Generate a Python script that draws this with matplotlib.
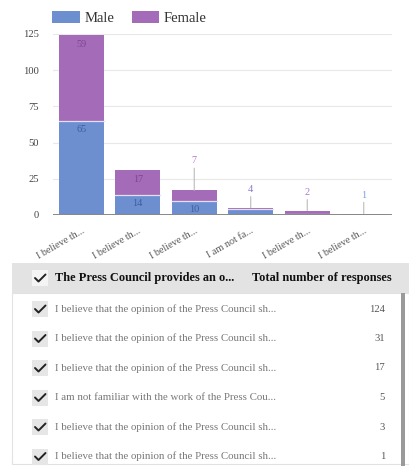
import matplotlib
matplotlib.use("Agg")
import matplotlib.pyplot as plt
from matplotlib.patches import Rectangle, Patch
from matplotlib.lines import Line2D
import numpy as np

# ---- data ----
tick_labels = ["I believe th...", "I believe th...", "I believe th...",
               "I am not fa...", "I believe th...", "I believe th..."]
male = [65, 14, 10, 4, 1, 1]
female = [59, 17, 7, 1, 2, 0]
row_texts = ["I believe that the opinion of the Press Council sh...",
             "I believe that the opinion of the Press Council sh...",
             "I believe that the opinion of the Press Council sh...",
             "I am not familiar with the work of the Press Cou...",
             "I believe that the opinion of the Press Council sh...",
             "I believe that the opinion of the Press Council sh..."]
totals = [124, 31, 17, 5, 3, 1]
header_left = "The Press Council provides an o..."
header_right = "Total number of responses"
y_ticks = [0, 25, 50, 75, 100, 125]

MALE_C = "#6d8fd0"
FEMALE_C = "#a46bb8"
SERIF = ["Liberation Serif", "DejaVu Serif"]

W, H = 409, 466
fig = plt.figure(figsize=(W / 100, H / 100), dpi=100)
fig.patch.set_facecolor("white")


def fx(x):
    return x / W


def fy(y):
    return 1 - y / H


# ---- stacked bar chart ----
ax = fig.add_axes([fx(53), fy(215), (392 - 53) / W, (215 - 34) / H])
x = np.arange(len(male))
bw = 0.79
ax.bar(x, male, bw, color=MALE_C, edgecolor="none", zorder=3)
ax.bar(x, female, bw, bottom=male, color=FEMALE_C, edgecolor="none", zorder=3)
# light seam between the two stacked segments
for i in range(len(male)):
    if female[i] > 0 and male[i] > 0:
        ax.plot([x[i] - bw / 2, x[i] + bw / 2], [male[i], male[i]],
                color="#e4e0f2", lw=0.9, zorder=4)

ax.set_xlim(-0.5, len(male) - 0.5)
ax.set_ylim(0, 125)
ax.set_yticks(y_ticks)
ax.set_yticklabels([str(t) for t in y_ticks], fontsize=7.6, color="#444444",
                   family=SERIF)
ax.tick_params(axis="y", length=0, pad=10)
ax.set_xticks(x)
ax.set_xticklabels(tick_labels, rotation=30, ha="right", rotation_mode="anchor",
                   fontsize=7.3, color="#555555", family=SERIF)
ax.tick_params(axis="x", length=0, pad=8)
for s in ax.spines.values():
    s.set_visible(False)
ax.grid(axis="y", color="#e8e8e8", linewidth=0.8, zorder=0)
ax.axhline(0, color="#888888", linewidth=1.4, zorder=5)

# values inside the larger segments
for i in range(len(male)):
    if male[i] >= 10:
        ax.annotate(str(male[i]), (x[i], male[i]), xytext=(0, -6.5),
                    textcoords="offset points", ha="center", va="center",
                    fontsize=7.4, color="#3e5d9e", family=SERIF, zorder=6)
    if female[i] >= 10:
        ax.annotate(str(female[i]), (x[i], male[i] + female[i]), xytext=(0, -6.5),
                    textcoords="offset points", ha="center", va="center",
                    fontsize=7.4, color="#7c4592", family=SERIF, zorder=6)

# values for the small bars, lifted above with a leader line
outside = [(2, female[2], "#b57bd0", 18),
           (3, male[3], "#8c78cc", 10),
           (4, female[4], "#a57bd8", 10),
           (5, male[5], "#7f9fe0", 10)]
for i, v, c, off in outside:
    top = male[i] + female[i]
    ax.annotate(str(v), (x[i], top), xytext=(0, off),
                textcoords="offset points", ha="center", va="bottom",
                fontsize=7.4, color=c, family=SERIF, zorder=6,
                arrowprops=dict(arrowstyle="-", color="#bbbbbb", lw=0.8,
                                shrinkA=0, shrinkB=0))

# ---- legend ----
handles = [Patch(facecolor=MALE_C, edgecolor="none"),
           Patch(facecolor=FEMALE_C, edgecolor="none")]
fig.legend(handles, ["Male", "Female"], loc="upper left",
           bbox_to_anchor=(fx(39), fy(-2)), ncol=2, frameon=False,
           prop={"family": SERIF, "size": 10.5}, handlelength=1.9,
           handleheight=0.9, handletextpad=0.3, columnspacing=1.2,
           labelcolor="#333333")

# ---- response table ----
def checkbox(cx, cy, bg):
    fig.patches.append(Rectangle((fx(cx - 8), fy(cy + 8)), 16 / W, 16 / H,
                                 transform=fig.transFigure, facecolor=bg,
                                 edgecolor="none"))
    fig.lines.append(Line2D([fx(cx - 5), fx(cx - 1.5), fx(cx + 5.5)],
                            [fy(cy), fy(cy + 3.5), fy(cy - 3.5)],
                            transform=fig.transFigure, color="#222222",
                            lw=1.4, solid_capstyle="round",
                            solid_joinstyle="round"))


# panel and header band
fig.patches.append(Rectangle((fx(12), fy(464)), (W - 12) / W, (464 - 293) / H,
                             transform=fig.transFigure, facecolor="white",
                             edgecolor="#e2e2e2", lw=0.8))
fig.patches.append(Rectangle((fx(12), fy(293)), (W - 12) / W, 30 / H,
                             transform=fig.transFigure, facecolor="#e3e3e3",
                             edgecolor="none"))
# scrollbar
fig.patches.append(Rectangle((fx(401), fy(466)), 4 / W, (466 - 293) / H,
                             transform=fig.transFigure, facecolor="#9a9a9a",
                             edgecolor="none"))

header_y = 278
checkbox(40, header_y, "#f4f4f4")
fig.text(fx(55), fy(header_y), header_left, ha="left", va="center",
         fontsize=8.9, fontweight="bold", color="#111111", family=SERIF)
fig.text(fx(392), fy(header_y), header_right, ha="right", va="center",
         fontsize=8.9, fontweight="bold", color="#111111", family=SERIF)

row_y0, row_step = 309, 29.5
for k, (txt, tot) in enumerate(zip(row_texts, totals)):
    yy = row_y0 + k * row_step
    checkbox(40, yy, "#e6e6e6")
    fig.text(fx(55), fy(yy), txt, ha="left", va="center", fontsize=7.8,
             color="#777777", family=SERIF)
    fig.text(fx(385), fy(yy), str(tot), ha="right", va="center", fontsize=7.6,
             color="#555555", family=SERIF)

fig.savefig("out.png", dpi=100, facecolor="white")
